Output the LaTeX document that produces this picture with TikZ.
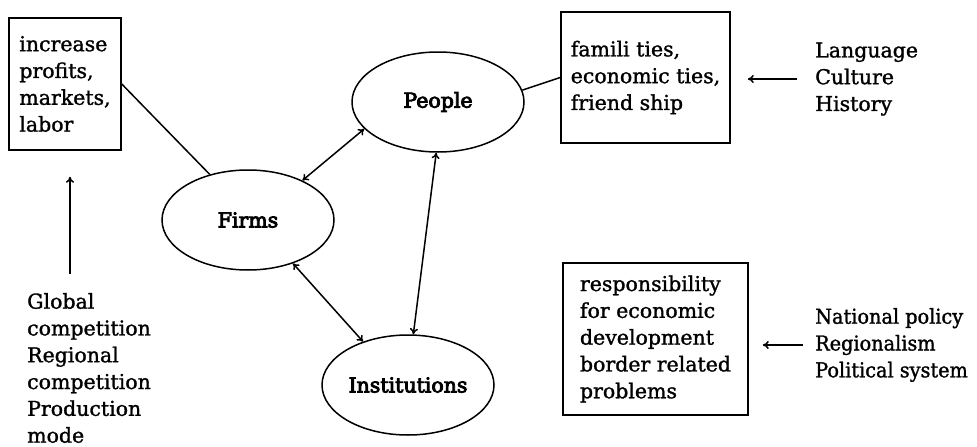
\documentclass[tikz,border=0pt]{standalone}
\usepackage{fontspec}
\setmainfont[FakeBold=1.3]{DejaVu Serif}
\newfontfamily\heavyserif[FakeBold=4]{DejaVu Serif}
\newfontfamily\narrowserif[FakeBold=1.3,FakeStretch=0.94]{DejaVu Serif}
\usetikzlibrary{shapes.geometric,arrows.meta}

\begin{document}
\begin{tikzpicture}[x=1pt, y=-1pt, >={To[length=6pt,width=8pt]},
  every node/.style={font=\fontsize{20.5}{26.8}\selectfont},
  actor/.style={draw, ellipse, minimum width=172pt, minimum height=100pt, inner sep=0pt, font=\fontsize{20.5}{26.8}\selectfont\heavyserif},
  goalbox/.style={draw, align=left, inner sep=0pt},
  factors/.style={align=left, inner sep=0pt, anchor=west},
  link/.style={line width=1.5pt}]
\useasboundingbox (0,0) rectangle (977,447);

% the three actors
\node[actor, link] (firms) at (248,220) {Firms};
\node[actor, link] (people) at (438,102) {People};
\node[actor, link] (inst) at (408,385) {Institutions};

% what each actor is after
\node[goalbox, link, minimum width=112pt, minimum height=132pt] (profits) at (65,84) {increase\\profits,\\markets,\\labor};
\node[goalbox, link, minimum width=169pt, minimum height=131pt] (ties) at (645.5,77.5) {famili ties,\\economic ties,\\friend ship};
\node[goalbox, link, minimum width=185pt, minimum height=152pt] (resp) at (655.5,339) {responsibility\\for economic\\development\\border related\\problems};

% outside forces
\node[factors] (comp) at (27,368) {Global\\competition\\Regional\\competition\\Production\\mode};
\node[factors] (lang) at (815,79) {Language\\Culture\\History};
\node[factors, font=\fontsize{20.5}{26.8}\selectfont\narrowserif] (natl) at (815,345) {National policy\\Regionalism\\Political system};

\draw[link] (profits.east) -- (firms.130);
\draw[link] (people.8) -- (ties.west);
\draw[link,<->] (firms.36) -- (people.200);
\draw[link,<->] (firms.316) -- (inst.136);
\draw[link,<->] (people.268) -- (inst.84);

\draw[link,->, shorten <=19pt, shorten >=26pt] ([xshift=5pt]profits.south |- comp.north) -- ([xshift=5pt]profits.south);
\draw[link,->, shorten <=18pt, shorten >=17pt] (lang.west) -- (lang.west -| ties.east);
\draw[link,->, shorten <=12pt, shorten >=14pt] (natl.west) -- (natl.west -| resp.east);
\end{tikzpicture}
\end{document}
